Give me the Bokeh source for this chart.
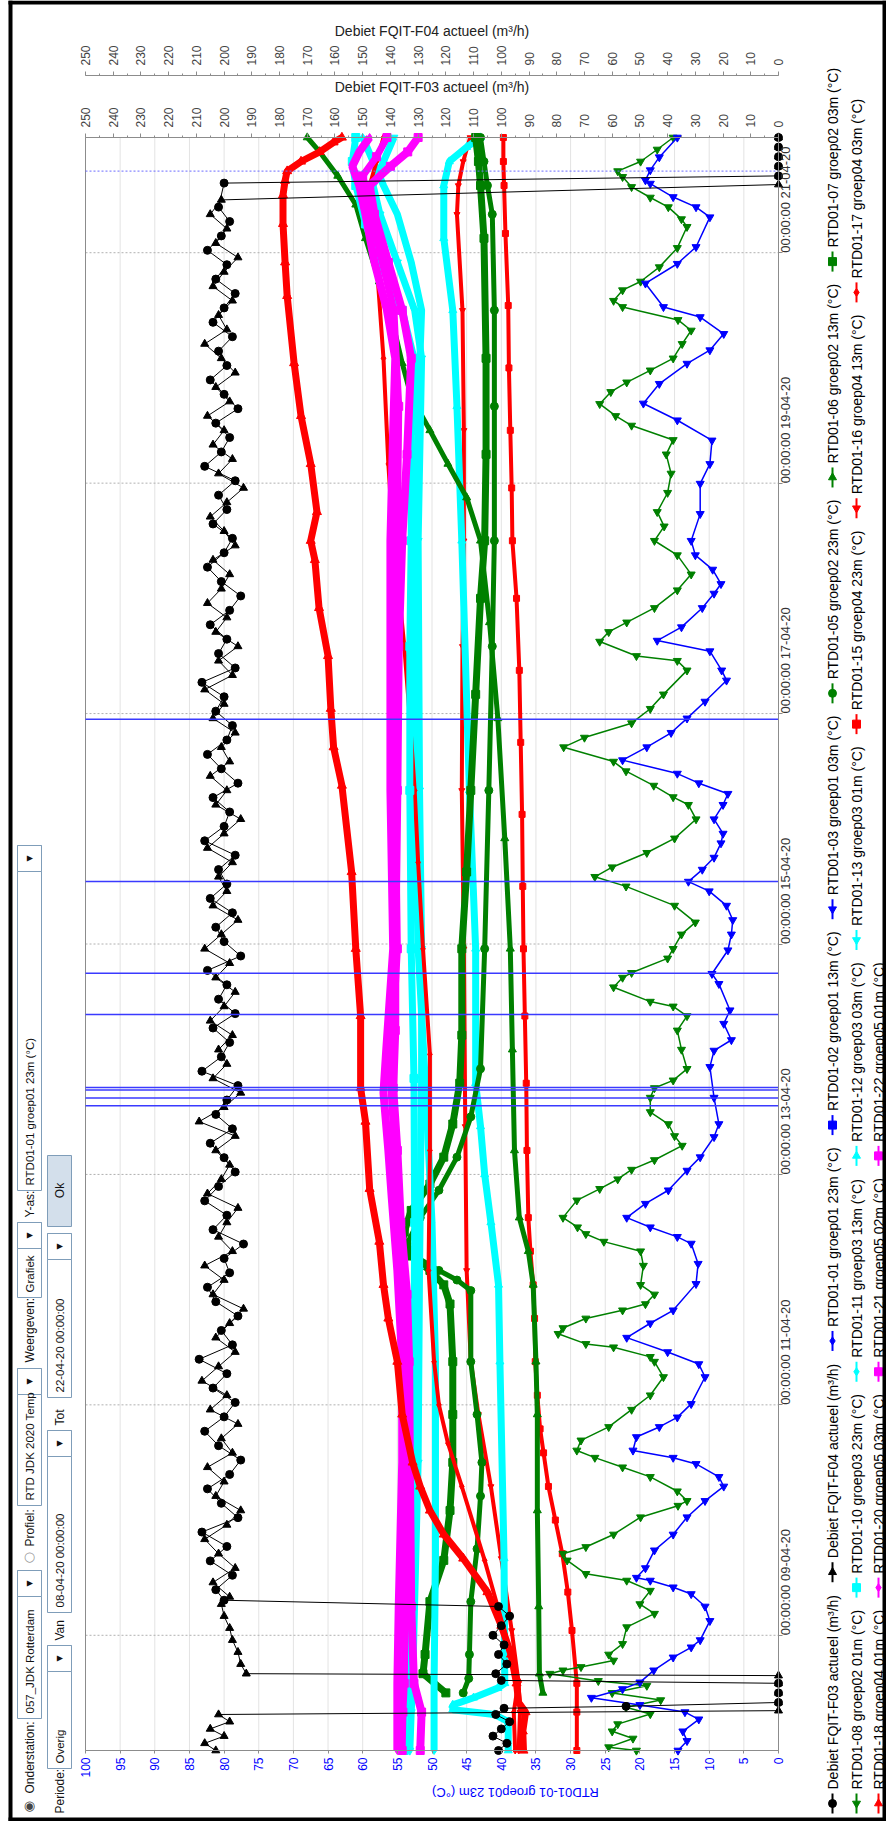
import numpy as np
import pandas as pd
from math import pi
from bokeh.plotting import figure
from bokeh.models import (Range1d, LinearAxis, FixedTicker, DatetimeTickFormatter, ColumnDataSource)
from bokeh.core.properties import value
from bokeh.embed import file_html
from bokeh.resources import INLINE

# ---------------------------------------------------------------- data
# time is given in hours after 08-04-2020 00:00
START = pd.Timestamp("2020-04-08 00:00:00")
PERIOD_HOURS = 336
time_tick_hours = [24, 72, 120, 168, 216, 264, 312]
temp_ticks = list(range(0, 101, 5))
flow_ticks = list(range(0, 251, 10))
flow_minor_ticks = list(range(0, 251, 5))

# flow FQIT-F03 (m3/h)
f03_hours = ([0, 1.5, 3, 4.5, 6, 7.5, 8.8, 9.2, 10, 12, 14, 14.6, 16, 18, 20, 22, 24, 26, 28, 30, 31.3]
             + list(np.arange(33.5, 324, 3.0)) + [326.5, 328, 330, 332, 334, 336])
f03_values = ([101, 98, 103, 100, 97, 102, 99, 55, 0, 0, 0, 100, 102, 98, 101, 99, 103, 100, 97, 101, 200]
              + [203, 197, 205, 199, 208, 195, 201, 206, 198, 194,
                 202, 207, 200, 196, 204, 199, 209, 197, 201, 195,
                 203, 206, 198, 200, 193, 204, 199, 207, 202, 196,
                 200, 205, 197, 203, 199, 195, 208, 201, 198, 204,
                 196, 202, 199, 206, 194, 200, 203, 197, 205, 199,
                 202, 196, 207, 200, 198, 204, 195, 201, 206, 199,
                 197, 203, 200, 208, 196, 202, 199, 205, 198, 194,
                 201, 206, 200, 197, 204, 199, 202, 196, 207, 201,
                 198, 203, 195, 200, 205, 199, 202, 197, 204, 200,
                 196, 203, 199, 206, 201, 198, 202, 200]
              + [0, 0, 0, 0, 0, 0])

# flow FQIT-F04 (m3/h)
f04_hours = ([0, 1.5, 3, 4.5, 6, 7.5, 8.3, 10, 12, 14, 15.6, 16, 18, 20.5, 23, 25.5, 28, 30.5]
             + list(np.arange(32, 324, 3.0)) + [326.2, 328, 330, 332, 334, 336])
f04_values = ([203, 207, 200, 205, 198, 202, 0, 0, 0, 0, 0, 192, 194, 195, 197, 198, 200, 201]
              + [198, 204, 196, 202, 207, 199, 194, 203, 200, 206,
                 197, 201, 195, 205, 199, 208, 202, 196, 203, 198,
                 193, 204, 200, 207, 197, 202, 199, 195, 206, 201,
                 198, 203, 196, 209, 200, 194, 204, 199, 202, 197,
                 205, 200, 196, 203, 198, 207, 201, 195, 204, 199,
                 202, 197, 206, 200, 194, 203, 199, 205, 198, 201,
                 196, 204, 200, 207, 197, 202, 195, 203, 199, 206,
                 201, 198, 204, 196, 200, 205, 199, 193, 202, 197,
                 204, 200, 206, 198, 203, 196, 201, 207, 199, 202,
                 197, 204, 200, 195, 203, 199, 205, 201]
              + [0, 0, 0, 0, 0, 0])

# RTD01-03 groep01 03m
rtd03_hours = [0, 2, 4, 6.5, 8, 9.5, 11, 12.8, 14.2, 16.7, 19.4, 21.5, 23, 27, 30, 32.6, 34, 35.4, 36, 38,
               41.7, 45, 48.6, 52, 55, 57, 59.7, 61, 62.5, 65.3, 67.4, 69.4, 72.2, 77.8, 80.5, 83, 86, 89, 91.7, 97.2,
               101.4, 105.6, 107, 109, 111, 113.9, 116.7, 120.8, 123.6, 127.8, 130.5, 136, 142.4, 145.8, 148, 151.4,
               154.2, 159.7, 161.8, 166.7, 170, 173, 176, 179, 181, 183.5, 186, 189, 191, 194, 197, 199.3, 201.5,
               203.5, 206.3, 209, 212, 215, 218.5, 222.9, 225, 229, 231.2, 234, 238, 241, 243, 246, 249, 252,
               257.6, 263.9, 268, 272.9, 277.1, 280.6, 284.7, 288.9, 291.7, 295.1, 298.6, 300.7, 305.6, 309.7,
               313.2, 319.4, 321.5, 323.6, 326.4, 327.1, 329.2, 331.9, 336]
rtd03_values = [14.5, 13.2, 13.8, 11.5, 13.5, 20.0, 27.0, 22.5, 20.0, 18.0, 15.2, 12.6, 11.3, 9.9, 10.6, 12.6,
                15.2, 18.5, 20.5, 19.2, 17.9, 15.2, 13.2, 10.6, 7.9, 8.6, 11.9, 15.2, 21.0, 20.5, 17.2, 14.6, 12.6,
                10.6, 11.5, 16.0, 21.9, 18.5, 15.2, 11.9, 11.6, 12.6, 14.6, 18.5, 21.9, 19.2, 15.9, 13.2, 11.3, 9.3,
                8.6, 9.3, 9.9, 9.3, 6.8, 7.9, 7.0, 8.6, 9.6, 7.3, 6.8, 6.6, 7.5, 10.0, 13.0, 11.0, 9.3, 8.3, 8.0,
                9.3, 8.0, 7.3, 11.5, 14.6, 22.5, 19.0, 15.5, 13.2, 10.6, 7.5, 8.2, 9.9, 17.5, 14.0, 11.0, 9.3, 8.3,
                9.5, 12.0, 12.6, 11.3, 11.3, 9.9, 9.6, 14.6, 19.5, 17.2, 13.2, 9.9, 7.9, 11.3, 16.6, 19.2, 14.6,
                11.9, 9.9, 11.9, 15.2, 18.5, 19.2, 18.5, 17.2, 14.6]

# RTD01-08 groep02 01m
rtd08_hours = [0, 0.7, 2.5, 4, 5.5, 7.6, 9, 10.5, 12, 13.5, 14.5, 16, 16.7, 17.4, 18.75, 20, 22.2, 25.7, 28.5,
               30.5, 33.3, 35.4, 36.8, 39.6, 41, 42.4, 45, 48.6, 51, 52, 54, 57, 59, 61, 62.5, 64.6, 67.4, 71, 74,
               77.8, 81, 82, 84, 84.7, 86.8, 88, 90, 91.7, 93, 95, 97, 101, 104, 106, 107.6, 109, 111, 114.6, 117,
               119, 121, 123, 126, 128, 130.5, 133, 136, 138, 139.6, 142, 146, 150, 153, 155, 156, 159, 161, 162,
               165, 167, 170, 172.5, 176, 180, 182, 184, 187, 190, 194, 197, 198.6, 201, 204, 206, 209, 211, 214,
               217, 220, 225, 227, 228, 231, 233, 235, 238, 241.7, 245, 249, 252, 255, 258, 262, 266, 270, 273,
               276, 278, 280.5, 283, 285, 287.5, 290, 293, 295.8, 298, 300.7, 302, 304.2, 306, 309, 313, 317.4,
               319, 321.5, 323.5, 325.7, 327.8, 329, 331, 333.5, 336]
rtd08_values = [20.5, 24.5, 21.0, 24.0, 23.2, 18.5, 22.0, 17.0, 24.0, 19.0, 26.0, 33.0, 31.1, 28.5, 23.8, 24.5,
                22.5, 21.9, 17.9, 20.0, 18.5, 21.9, 27.8, 30.5, 31.1, 27.8, 23.8, 19.9, 14.5, 13.2, 14.6, 18.5,
                22.5, 26.5, 29.1, 28.5, 24.5, 21.2, 18.5, 16.6, 17.9, 18.5, 23.8, 27.8, 31.8, 31.1, 27.8, 22.5,
                19.2, 17.9, 19.9, 19.5, 19.9, 25.2, 27.8, 29.0, 31.1, 29.1, 25.8, 23.2, 21.2, 17.9, 13.9, 15.0,
                15.9, 18.5, 18.5, 17.9, 15.2, 13.2, 14.0, 14.6, 13.2, 15.2, 18.5, 23.8, 22.5, 21.2, 16.0, 15.2,
                14.0, 12.0, 15.0, 22.0, 26.5, 24.0, 19.0, 15.0, 11.9, 13.0, 15.2, 18.0, 22.0, 23.8, 31.0, 28.0,
                21.2, 18.5, 16.6, 13.2, 14.6, 20.5, 25.8, 24.5, 21.9, 17.9, 14.6, 12.6, 14.6, 17.9, 16.5, 17.5,
                16.0, 15.5, 16.2, 15.2, 21.2, 23.5, 25.8, 24.2, 21.9, 18.5, 15.2, 13.9, 12.6, 14.5, 22.5, 23.8,
                22.5, 19.9, 17.2, 14.6, 13.2, 14.0, 15.9, 18.5, 21.2, 22.5, 23.2, 19.9, 17.5, 15.2]

# groep02
rtd05_hours = [12, 15, 20, 31, 42, 53, 60, 70, 81, 95.8, 98, 100, 102.8, 105.6, 111, 116.7, 123.6, 132, 142,
               167, 200, 230, 252, 280, 300, 320, 326, 331, 336]
rtd05_values = [45.5, 44.7, 44.6, 44.4, 43.5, 43.0, 42.8, 43.5, 44.4, 44.4, 46.4, 49.0, 52.3, 53.6, 51.7, 49.0,
                46.4, 44.4, 43.0, 42.4, 41.8, 41.3, 41.0, 41.0, 41.0, 41.3, 42.0, 42.5, 43.0]
rtd06_hours = [12, 16, 30, 50, 70, 81, 97, 104, 111, 125, 146, 167, 190, 215, 235, 252, 261, 268, 275, 282,
               289, 297, 306, 315, 322, 328, 333, 336]
rtd06_values = [34.0, 34.5, 34.6, 34.8, 34.8, 35.0, 35.4, 36.1, 37.4, 38.1, 38.4, 38.7, 39.5, 40.5, 41.7, 43.0,
                45.0, 47.7, 50.3, 53.0, 54.3, 55.6, 57.6, 59.6, 61.0, 63.6, 66.2, 68.0]
rtd07_hours = [12, 16, 20, 31, 39.6, 50, 60, 70, 81, 93, 97, 100, 103, 105.6, 108, 112.5, 118, 123.6, 130.5,
               139, 149, 167, 183, 200, 220, 240, 252, 270, 290, 315, 326, 331, 336]
rtd07_values = [48.0, 51.3, 51.0, 50.3, 48.3, 47.4, 47.0, 47.0, 47.0, 47.4, 48.3, 50.3, 53.0, 54.3, 54.0, 53.0,
                50.3, 48.3, 47.0, 46.0, 45.7, 45.7, 45.0, 44.4, 43.7, 43.0, 42.4, 42.2, 42.2, 42.5, 43.0, 43.3, 43.7]

# groep03
rtd10_hours = [0, 8, 14, 40, 60, 81, 110, 140, 167, 200, 230, 252, 275, 290, 300, 310, 318, 326, 331, 336]
rtd10_values = [54.0, 54.0, 53.6, 53.2, 53.0, 52.6, 52.5, 52.6, 53.0, 53.2, 53.2, 53.0, 53.0, 52.6, 54.3, 57.6,
                59.6, 61.0, 61.5, 61.0]
rtd11_hours = [0, 7, 14, 40, 81, 110, 140, 167, 200, 252, 280, 300, 310, 320, 326, 331, 336]
rtd11_values = [49.7, 49.7, 49.7, 49.5, 49.5, 50.0, 51.0, 52.0, 52.5, 52.3, 52.0, 51.5, 53.0, 55.0, 57.0, 58.5, 60.0]
rtd12_hours = [0, 6, 7.5, 8.5, 9.5, 11, 13, 14, 40, 81, 97, 110, 120, 130, 139, 167, 200, 252, 280, 300, 315,
               326, 331, 334, 336]
rtd12_values = [39.0, 39.0, 41.0, 47.0, 47.0, 44.0, 40.5, 39.5, 39.6, 40.2, 40.4, 41.5, 42.4, 43.0, 43.7, 43.7,
                44.6, 45.7, 46.4, 47.0, 48.3, 48.3, 47.5, 45.0, 43.0]
rtd13_hours = [0, 8, 14, 60, 100, 140, 167, 200, 252, 290, 300, 310, 320, 326, 331, 336]
rtd13_values = [53.2, 53.0, 52.8, 52.0, 51.8, 51.5, 51.5, 51.8, 52.0, 51.5, 52.5, 55.0, 57.5, 58.5, 57.0, 55.5]

# groep04
rtd15_hours = [0, 8, 14, 25, 33, 41, 48, 55, 62, 67, 74, 81, 90, 97, 104, 111, 125, 139, 153, 167, 180, 195,
               210, 225, 240, 252, 263, 275, 288, 301, 316, 326, 331, 336]
rtd15_values = [29.1, 29.1, 29.1, 29.8, 30.4, 31.2, 32.2, 33.2, 33.9, 34.4, 34.8, 35.1, 35.2, 35.4, 35.8, 36.1,
                36.3, 36.4, 36.6, 36.8, 36.9, 37.0, 37.2, 37.4, 37.8, 38.4, 38.5, 38.7, 38.9, 39.0, 39.4, 39.6,
                39.7, 39.7]
rtd16_hours = [0, 8, 14, 25, 40, 55, 70, 81, 100, 130, 167, 200, 230, 252, 275, 300, 320, 326, 331, 336]
rtd16_values = [37.5, 37.3, 37.5, 38.5, 40.0, 41.5, 43.3, 44.4, 45.0, 45.2, 45.4, 45.7, 45.6, 45.4, 45.4, 45.6,
                46.4, 46.2, 45.5, 44.5]
rtd17_hours = [0, 8, 14.6, 25.7, 39.6, 55, 64, 72, 81, 100, 125, 145, 167, 185, 200, 215, 230, 242, 252, 268,
               290, 310, 320, 326, 331, 336]
rtd17_values = [38.0, 38.2, 37.5, 39.7, 42.4, 45.7, 47.7, 49.0, 49.7, 50.5, 50.3, 50.3, 51.3, 52.0, 52.5, 53.2,
                54.0, 54.8, 55.6, 56.3, 57.0, 58.0, 58.8, 59.0, 58.0, 57.0]
rtd18_hours = [0, 4, 8, 10, 14, 20, 26, 33, 40, 45, 50, 55, 60, 70, 81, 90, 97, 106, 117, 131, 138, 153, 167,
               183, 201, 209, 217, 228, 238, 248, 252, 258, 268, 278, 289, 303, 310, 318, 324, 327, 329, 331,
               333, 335, 336]
rtd18_values = [36.8, 36.9, 36.5, 37.5, 37.8, 38.6, 40.0, 42.0, 45.5, 48.3, 50.3, 51.7, 52.8, 54.3, 55.0, 56.3,
                57.0, 57.6, 59.0, 59.6, 60.3, 60.3, 61.0, 61.6, 63.0, 64.2, 64.6, 65.0, 66.3, 66.9, 67.5, 66.6,
                67.5, 68.9, 69.9, 70.9, 71.2, 71.5, 71.5, 71.2, 70.9, 68.9, 66.2, 64.2, 63.0]

# groep05
rtd20_hours = [0, 8, 14, 30, 60, 81, 100, 115, 125, 137, 146, 167, 200, 230, 252, 275, 290, 300, 310, 320,
               326, 330, 333, 336]
rtd20_values = [55.0, 55.0, 55.0, 54.8, 54.3, 54.3, 55.0, 55.8, 56.3, 57.0, 56.6, 55.6, 56.0, 56.0, 56.0, 55.6,
                55.3, 56.5, 58.3, 59.6, 60.5, 61.5, 60.5, 59.0]
rtd21_hours = [0, 8, 14, 30, 60, 81, 95, 110, 125, 138, 150, 167, 200, 230, 252, 270, 290, 300, 310, 320, 326,
               330, 333, 336]
rtd21_values = [51.7, 51.5, 52.6, 53.0, 53.2, 53.3, 53.6, 54.5, 55.0, 55.6, 55.3, 55.3, 55.0, 54.8, 54.3, 53.6,
                53.0, 54.3, 56.3, 58.3, 59.0, 56.0, 53.5, 52.0]
rtd22_hours = [0, 8, 14, 40, 81, 110, 140, 167, 200, 252, 280, 300, 312, 322, 328, 332, 336]
rtd22_values = [54.3, 54.2, 54.0, 53.8, 53.8, 54.8, 56.0, 55.0, 55.3, 55.0, 54.8, 55.5, 57.5, 59.0, 60.0, 58.0, 56.5]

# switching events and the current-time marker
event_hours = [134.3, 135.9, 137.6, 138.1, 153.3, 161.9, 181.0, 214.8]
now_hour = 329.0

# ---------------------------------------------------------------- page geometry
BLACK, BLUE, GREEN, CYAN, RED, MAGENTA = "#000000", "#0000ff", "#008000", "#00ffff", "#ff0000", "#ff00ff"
FONT = "Liberation Sans"
SYM = "DejaVu Sans"
W, H = 886, 1821
FRAME_L, FRAME_R, FRAME_T, FRAME_B = 85, 778, 137, 1750   # plot area in page pixels

PX_PER_DEG = (FRAME_R - FRAME_L) / 100.0
PX_PER_HOUR = (FRAME_B - FRAME_T) / PERIOD_HOURS
X_AT_LEFT = 100 + FRAME_L / PX_PER_DEG            # temperature value at page x = 0
X_AT_RIGHT = -(W - FRAME_R) / PX_PER_DEG          # temperature value at page x = W
H_AT_TOP = PERIOD_HOURS + FRAME_T / PX_PER_HOUR   # hours at page y = 0
H_AT_BOTTOM = -(H - FRAME_B) / PX_PER_HOUR        # hours at page y = H


def when(hours):
    secs = np.round(np.asarray(hours, dtype=float) * 3600).astype("int64")
    return np.datetime64("2020-04-08T00:00:00") + secs.astype("timedelta64[s]")


def ms(h):
    return START.value / 1e6 + h * 3600e3


def PX(x):
    """page x pixel -> temperature coordinate"""
    return X_AT_LEFT + x * (X_AT_RIGHT - X_AT_LEFT) / W


def PY(y):
    """page y pixel -> time coordinate (ms)"""
    return ms(H_AT_TOP + y * (H_AT_BOTTOM - H_AT_TOP) / H)


p = figure(width=W, height=H, x_range=Range1d(X_AT_LEFT, X_AT_RIGHT),
           y_range=Range1d(ms(H_AT_BOTTOM), ms(H_AT_TOP)),
           y_axis_type="datetime", x_axis_location="below", y_axis_location="right",
           output_backend="svg", toolbar_location=None, min_border=0)
p.background_fill_color = "white"
p.border_fill_color = "white"
p.outline_line_color = None
p.grid.visible = False
p.extra_x_ranges = {"f03": Range1d(2.5 * X_AT_LEFT, 2.5 * X_AT_RIGHT),
                    "f04": Range1d(2.5 * X_AT_LEFT, 2.5 * X_AT_RIGHT)}


def style_axis(ax, size, color):
    ax.major_label_text_font = FONT
    ax.major_label_text_font_size = f"{size}px"
    ax.major_label_text_color = color
    ax.axis_line_color = "#8c8c8c"
    ax.major_tick_line_color = "#8c8c8c"
    ax.minor_tick_line_color = "#8c8c8c"
    ax.major_tick_in = 0
    ax.minor_tick_in = 0
    ax.major_label_orientation = pi / 2


# temperature axis along the bottom edge of the plot area
tax = p.below[0]
tax.ticker = FixedTicker(ticks=temp_ticks)
tax.fixed_location = ms(0)
tax.bounds = (0, 100)
style_axis(tax, 12, BLUE)
tax.minor_tick_line_color = None
tax.major_tick_out = 3
tax.major_label_standoff = 4
tax.axis_label = "RTD01-01 groep01 23m (°C)"
tax.axis_label_text_font = FONT
tax.axis_label_text_font_size = "13px"
tax.axis_label_text_font_style = "normal"
tax.axis_label_text_color = BLUE
tax.axis_label_standoff = 12
try:
    tax.axis_label_orientation = pi
except Exception:
    pass

# time axis along the right edge of the plot area
yax = p.right[0]
yax.ticker = FixedTicker(ticks=[ms(h) for h in time_tick_hours])
yax.fixed_location = 0
yax.bounds = (ms(0), ms(PERIOD_HOURS))
fmt = "%H:%M:%S %d-%m-%y"
yax.formatter = DatetimeTickFormatter(days=fmt, hours=fmt, hourmin=fmt, minutes=fmt, minsec=fmt,
                                      seconds=fmt, months=fmt, years=fmt)
style_axis(yax, 13, "#333333")
yax.minor_tick_line_color = None
yax.major_tick_out = 4
yax.major_label_standoff = 3

# flow axes above the plot area
for name, title, where, standoff in [("f03", "Debiet FQIT-F03 actueel (m³/h)", ms(PERIOD_HOURS), 9),
                                     ("f04", "Debiet FQIT-F04 actueel (m³/h)", PY(75), 3)]:
    ax = LinearAxis(x_range_name=name, axis_label=title, fixed_location=where, bounds=(0, 250),
                    ticker=FixedTicker(ticks=flow_ticks, minor_ticks=flow_minor_ticks))
    style_axis(ax, 12, "#444444")
    ax.major_tick_out = 4
    ax.minor_tick_out = 2
    ax.major_label_standoff = 6
    ax.axis_label_standoff = standoff
    ax.axis_label_text_font = FONT
    ax.axis_label_text_font_size = "14px"
    ax.axis_label_text_font_style = "normal"
    ax.axis_label_text_color = "#222222"
    p.add_layout(ax, "above")

# grid lines and plot-area outline
p.segment(x0=temp_ticks, x1=temp_ticks, y0=[ms(0)] * len(temp_ticks), y1=[ms(PERIOD_HOURS)] * len(temp_ticks),
          line_color="#e3e3e3", line_width=1)
tick_ms = [ms(h) for h in time_tick_hours]
p.segment(x0=[100] * len(tick_ms), x1=[0] * len(tick_ms), y0=tick_ms, y1=tick_ms,
          line_color="#b0b0b0", line_width=1, line_dash="2 2")
p.quad(left=[100], right=[0], top=[ms(PERIOD_HOURS)], bottom=[ms(0)], fill_color=None,
       line_color="#8c8c8c", line_width=1)


def band(hours, values, color, marker, lw, size=8):
    src = ColumnDataSource(dict(t=when(hours), v=values))
    p.line("v", "t", source=src, line_color=color, line_width=lw)
    p.scatter("v", "t", source=src, marker=marker, size=size, fill_color=color, line_color=color)


band(rtd15_hours, rtd15_values, RED, "square", 4, 6)
band(rtd16_hours, rtd16_values, RED, "inverted_triangle", 4, 6)
band(rtd12_hours, rtd12_values, CYAN, "triangle", 7)
band(rtd05_hours, rtd05_values, GREEN, "circle", 5)
band(rtd07_hours, rtd07_values, GREEN, "square", 7)
band(rtd06_hours, rtd06_values, GREEN, "triangle", 5)
band(rtd11_hours, rtd11_values, CYAN, "diamond", 7)
band(rtd13_hours, rtd13_values, CYAN, "inverted_triangle", 7)
band(rtd17_hours, rtd17_values, RED, "diamond", 4, 7)
band(rtd10_hours, rtd10_values, CYAN, "square", 7)
band(rtd21_hours, rtd21_values, MAGENTA, "square", 8)
band(rtd22_hours, rtd22_values, MAGENTA, "square", 7)
band(rtd20_hours, rtd20_values, MAGENTA, "diamond", 8)
band(rtd18_hours, rtd18_values, RED, "triangle", 7, 9)

band(rtd08_hours, rtd08_values, GREEN, "inverted_triangle", 1.5, 8)
band(rtd03_hours, rtd03_values, BLUE, "inverted_triangle", 1.5, 8)

for hours, values, rng, marker in [(f03_hours, f03_values, "f03", "circle"),
                                   (f04_hours, f04_values, "f04", "triangle")]:
    src = ColumnDataSource(dict(t=when(hours), v=values))
    p.line("v", "t", source=src, x_range_name=rng, line_color=BLACK, line_width=1)
    p.scatter("v", "t", source=src, x_range_name=rng, marker=marker, size=8,
              fill_color=BLACK, line_color=BLACK)

event_ms = [ms(h) for h in event_hours]
p.segment(x0=[100] * len(event_ms), x1=[0] * len(event_ms), y0=event_ms, y1=event_ms,
          line_color="#3a3aff", line_width=1.5)
p.segment(x0=[100], x1=[0], y0=[ms(now_hour)], y1=[ms(now_hour)],
          line_color="#6a6aff", line_width=1, line_dash="2 2")


# ---------------------------------------------------------------- controls, legend, window border
def put_text(x, y, text, size=12, color="#111111", angle=pi / 2, align="left", font=FONT):
    p.text(x=[PX(x)], y=[PY(y)], text=[text], angle=angle, text_align=align, text_baseline="middle",
           text_font=value(font), text_font_size=value(f"{size}px"), text_color=color)


def put_box(x0, y0, x1, y1, fill="white", line="#7f9db9", lw=1):
    p.quad(left=[PX(x0)], right=[PX(x1)], top=[PY(y0)], bottom=[PY(y1)],
           fill_color=fill, line_color=line, line_width=lw)


def combo(x0, x1, y_lo, y_hi, text):
    put_box(x0, y_lo, x1, y_hi)
    put_box(x0, y_lo, x1, y_lo + 26)
    xc = (x0 + x1) / 2
    put_text(xc, y_hi - 5, text, 11.5)
    put_text(xc, y_lo + 13, "▼", 8, "#111111", angle=pi / 2, align="center", font=SYM)


put_text(29, 1805, "◉", 13, "#444444", angle=0, align="center", font=SYM)
put_text(29, 1793, "Onderstation:", 12)
combo(17, 41, 1570, 1718, "057_JDK Rotterdam")
put_text(29, 1556, "○", 13, "#999999", angle=0, align="center", font=SYM)
put_text(29, 1546, "Profiel:", 12)
combo(17, 41, 1368, 1505, "RTD JDK 2020 Temp")
put_text(29, 1362, "Weergeven:", 12)
combo(17, 41, 1222, 1297, "Grafiek")
put_text(29, 1217, "Y-as:", 12)
combo(17, 41, 845, 1190, "RTD01-01 groep01 23m (°C)")

put_text(59, 1813, "Periode:", 12)
combo(47, 71, 1645, 1768, "Overig")
put_text(59, 1640, "Van", 12)
combo(47, 71, 1430, 1612, "08-04-20 00:00:00")
put_text(59, 1425, "Tot", 12)
combo(47, 71, 1233, 1397, "22-04-20 00:00:00")
put_box(47, 1155, 71, 1226, fill="#d3dfeb")
put_text(59, 1190, "Ok", 12, align="center")

CHAR_EM = {"R": .722, "T": .611, "D": .722, "F": .611, "Q": .778, "I": .278, "C": .722, "-": .333,
           " ": .278, "(": .333, ")": .333, "°": .4, "/": .278, "³": .333, "r": .333, "m": .833,
           "i": .222, "t": .278, "c": .5, "l": .222}


def text_len(s, size):
    return sum(CHAR_EM.get(c, .556) for c in s) * size


MARKERS = {"●": "circle", "▲": "triangle", "◆": "diamond", "■": "square", "▼": "inverted_triangle"}
legend_rows = [
    (832, [("Debiet FQIT-F03 actueel (m³/h)", BLACK, "●"), ("Debiet FQIT-F04 actueel (m³/h)", BLACK, "▲"),
           ("RTD01-01 groep01 23m (°C)", BLUE, "◆"), ("RTD01-02 groep01 13m (°C)", BLUE, "■"),
           ("RTD01-03 groep01 03m (°C)", BLUE, "▼"), ("RTD01-05 groep02 23m (°C)", GREEN, "●"),
           ("RTD01-06 groep02 13m (°C)", GREEN, "▲"), ("RTD01-07 groep02 03m (°C)", GREEN, "■")]),
    (856, [("RTD01-08 groep02 01m (°C)", GREEN, "▼"), ("RTD01-10 groep03 23m (°C)", CYAN, "■"),
           ("RTD01-11 groep03 13m (°C)", CYAN, "◆"), ("RTD01-12 groep03 03m (°C)", CYAN, "▲"),
           ("RTD01-13 groep03 01m (°C)", CYAN, "▼"), ("RTD01-15 groep04 23m (°C)", RED, "■"),
           ("RTD01-16 groep04 13m (°C)", RED, "▼"), ("RTD01-17 groep04 03m (°C)", RED, "◆")]),
    (878, [("RTD01-18 groep04 01m (°C)", RED, "▲"), ("RTD01-20 groep05 03m (°C)", MAGENTA, "◆"),
           ("RTD01-21 groep05 02m (°C)", MAGENTA, "■"), ("RTD01-22 groep05 01m (°C)", MAGENTA, "■")]),
]
for row_x, entries in legend_rows:
    y = 1813
    for text, color, mark in entries:
        p.segment(x0=[PX(row_x)], y0=[PY(y)], x1=[PX(row_x)], y1=[PY(y - 20)], line_color=color, line_width=2)
        p.scatter(x=[PX(row_x)], y=[PY(y - 10)], marker=MARKERS[mark], size=8, fill_color=color, line_color=color)
        put_text(row_x, y - 24, text, 14, "#000000")
        y -= 24 + text_len(text, 14) + 12

# window border
put_box(8, 0, 12, H, fill=BLACK, line=None)
put_box(8, 0, W, 4, fill=BLACK, line=None)
put_box(8, H - 4, W, H, fill=BLACK, line=None)
put_box(W - 4, 0, W, H, fill=BLACK, line=None)

open("out.html", "w").write(file_html(p, INLINE))
